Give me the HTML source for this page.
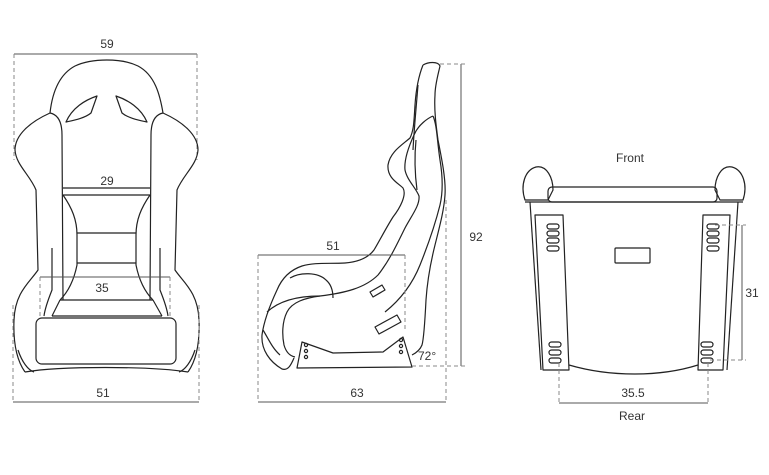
<!DOCTYPE html>
<html><head><meta charset="utf-8"><style>
html,body{margin:0;padding:0;background:#fff}
svg{display:block}
text{font-family:"Liberation Sans",sans-serif;font-size:12px;fill:#333}
.s{fill:none;stroke:#222;stroke-width:1.2;stroke-linejoin:round}
.d{fill:none;stroke:#555;stroke-width:1}
.dd{fill:none;stroke:#888;stroke-width:1;stroke-dasharray:4,3}
</style></head><body>
<svg width="769" height="475" viewBox="0 0 769 475">
<!-- FRONT VIEW -->
<line class="d" x1="14" y1="54" x2="197" y2="54"/>
<line class="dd" x1="14" y1="54" x2="14" y2="160"/>
<line class="dd" x1="197" y1="54" x2="197" y2="160"/>
<text x="107" y="48" text-anchor="middle">59</text>
<path class="s" d="M50,113 C52,95 58,75 75,66 C92,58 122,58 138,66 C155,75 160,95 163,113"/>
<path class="s" d="M50,113 C30,122 15,135 15,150 C16,165 30,175 36,190 L38,270 C30,282 15,292 14,320 C13,345 18,362 25,372"/>
<path class="s" d="M163,113 C183,122 198,135 198,150 C197,165 183,175 177,190 L175,270 C183,282 198,292 199,320 C200,345 195,362 188,372"/>
<path class="s" d="M25,372 C60,366 150,366 188,372"/>
<path class="s" d="M50,113 C60,115 62,125 62,135 L63,300"/>
<path class="s" d="M163,113 C153,115 151,125 151,135 L150,300"/>
<path class="s" d="M18,350 C22,362 28,370 34,372"/><path class="s" d="M195,350 C191,362 185,370 179,372"/>
<path class="s" d="M66,122 C72,108 85,100 97,96 L91,113 C85,118 75,120 66,122Z"/>
<path class="s" d="M147,122 C141,108 128,100 116,96 L122,113 C128,118 138,120 147,122Z"/>
<line class="s" x1="63" y1="188" x2="150" y2="188"/>
<line class="s" x1="63" y1="195" x2="150" y2="195"/>
<text x="107" y="185" text-anchor="middle">29</text>
<path class="s" d="M63,195 C72,208 77,220 77,235 L77,265 C74,280 68,292 60,300"/>
<path class="s" d="M150,195 C141,208 136,220 136,235 L136,265 C139,280 145,292 153,300"/>
<line class="s" x1="77" y1="233" x2="136" y2="233"/>
<line class="s" x1="77" y1="263" x2="136" y2="263"/>
<line class="s" x1="60" y1="300" x2="153" y2="300"/>
<line class="s" x1="52" y1="316" x2="162" y2="316"/>
<path class="s" d="M52,316 L60,300"/><path class="s" d="M162,316 L153,300"/>
<path class="s" d="M52,248 L52,290 C48,300 45,308 44,316"/><path class="s" d="M160,248 L160,290 C164,300 167,308 168,316"/>
<line class="d" x1="40" y1="277" x2="170" y2="277"/>
<line class="dd" x1="40" y1="277" x2="40" y2="316"/><line class="dd" x1="170" y1="277" x2="170" y2="316"/>
<text x="102" y="292" text-anchor="middle">35</text>
<rect class="s" x="36" y="318" width="140" height="46" rx="6"/>
<line class="d" x1="13" y1="402" x2="199" y2="402"/>
<line class="dd" x1="13" y1="305" x2="13" y2="402"/><line class="dd" x1="199" y1="305" x2="199" y2="402"/>
<text x="103" y="397" text-anchor="middle">51</text>

<!-- SIDE VIEW -->
<path class="s" d="M423,65 C428,62 438,61 440,66 C438,75 435,85 435,95 C434,110 436,125 438,140 C442,160 446,180 445,195 C444,210 440,225 435,245 C430,265 427,285 426,300 C425,320 424,338 422,345 C420,350 416,353 412,355"/>
<path class="s" d="M423,65 C419,75 416,90 415,105 C414,120 414,130 410,138 C402,145 390,152 388,165 C387,178 398,183 403,188 C407,195 400,208 393,217 C386,228 380,240 374,250 C368,258 358,262 345,263 C330,264 315,262 302,266 C290,270 282,278 277,290 C270,305 264,320 262,335 C261,350 270,362 282,369 C288,371 291,365 294,358"/>
<path class="s" d="M418,85 C416,110 414,130 413,150"/>
<path class="s" d="M433,116 C428,118 418,125 414,135 C408,148 404,160 405,170 C407,180 416,188 419,196 C420,205 412,215 405,228 C398,242 390,260 378,275 C365,288 345,293 320,296 C305,298 292,302 287,312 C282,322 282,335 284,345 C286,352 290,356 295,357"/>
<path class="s" d="M433,116 C437,125 437,140 440,160 C443,178 443,192 440,205 C435,225 428,245 420,265 C412,285 400,300 385,312"/>
<path class="s" d="M416,140 C414,160 415,175 417,190"/>
<path class="s" d="M290,278 C300,272 318,272 326,280 C332,285 333,292 333,298"/>
<path class="s" d="M267,312 C280,300 300,296 320,296"/>
<path class="s" d="M263,330 C268,338 272,348 280,355"/>
<path class="s" d="M370,292 L382,285 L385,290 L373,297Z"/>
<path class="s" d="M375,327 L397,315 L401,322 L379,334Z"/>
<path class="s" d="M297,368 L302,342 L333,353 L383,352 L403,337 L412,367Z"/>
<circle class="s" cx="306" cy="345" r="1.6"/><circle class="s" cx="306" cy="351" r="1.6"/><circle class="s" cx="306" cy="357" r="1.6"/>
<circle class="s" cx="401" cy="340" r="1.6"/><circle class="s" cx="401" cy="346" r="1.6"/><circle class="s" cx="401" cy="352" r="1.6"/>
<line class="d" x1="461" y1="64" x2="461" y2="366"/>
<line class="dd" x1="440" y1="64" x2="466" y2="64"/>
<line class="dd" x1="412" y1="366" x2="466" y2="366"/>
<line class="dd" x1="446" y1="200" x2="446" y2="403"/>
<text x="476" y="241" text-anchor="middle">92</text>
<line class="d" x1="258" y1="255" x2="405" y2="255"/>
<line class="dd" x1="258" y1="255" x2="258" y2="402"/><line class="dd" x1="405" y1="255" x2="405" y2="330"/>
<text x="333" y="250" text-anchor="middle">51</text>
<line class="d" x1="258" y1="402" x2="446" y2="402"/>
<text x="357" y="397" text-anchor="middle">63</text>
<text x="418" y="360">72°</text>

<!-- REAR VIEW -->
<text x="630" y="162" text-anchor="middle">Front</text>
<path class="s" d="M525,200 C520,185 525,170 536,167 C547,165 553,178 553,190 L548,200Z"/>
<path class="s" d="M743,200 C748,185 743,170 732,167 C721,165 715,178 715,190 L720,200Z"/>
<rect class="s" x="548" y="187" width="169" height="15" rx="4"/>
<line class="s" x1="525" y1="202" x2="743" y2="202"/>
<path class="s" d="M530,202 L541,370"/><path class="s" d="M738,202 L727,370"/>
<path class="s" d="M535,215 L563,215 L569,370 L543,370Z"/>
<path class="s" d="M703,215 L730,215 L723,370 L698,370Z"/>
<path class="s" d="M569,365 C610,377 660,377 698,365"/>
<g class="s">
<rect x="547" y="224" width="12" height="5" rx="2.5"/><rect x="547" y="231" width="12" height="5" rx="2.5"/><rect x="547" y="238" width="12" height="5" rx="2.5"/><rect x="547" y="246" width="12" height="5" rx="2.5"/>
<rect x="549" y="342" width="12" height="5" rx="2.5"/><rect x="549" y="350" width="12" height="5" rx="2.5"/><rect x="549" y="358" width="12" height="5" rx="2.5"/>
<rect x="707" y="224" width="12" height="5" rx="2.5"/><rect x="707" y="231" width="12" height="5" rx="2.5"/><rect x="707" y="238" width="12" height="5" rx="2.5"/><rect x="707" y="246" width="12" height="5" rx="2.5"/>
<rect x="701" y="342" width="12" height="5" rx="2.5"/><rect x="701" y="350" width="12" height="5" rx="2.5"/><rect x="701" y="358" width="12" height="5" rx="2.5"/>
<rect x="615" y="248" width="35" height="15" rx="1"/>
</g>
<line class="d" x1="742" y1="225" x2="742" y2="360"/>
<line class="dd" x1="715" y1="225" x2="746" y2="225"/><line class="dd" x1="710" y1="360" x2="746" y2="360"/>
<text x="752" y="297" text-anchor="middle">31</text>
<line class="d" x1="559" y1="403" x2="708" y2="403"/>
<line class="dd" x1="559" y1="363" x2="559" y2="403"/><line class="dd" x1="708" y1="363" x2="708" y2="403"/>
<text x="633" y="397" text-anchor="middle">35.5</text>
<text x="632" y="420" text-anchor="middle">Rear</text>
</svg>
</body></html>
